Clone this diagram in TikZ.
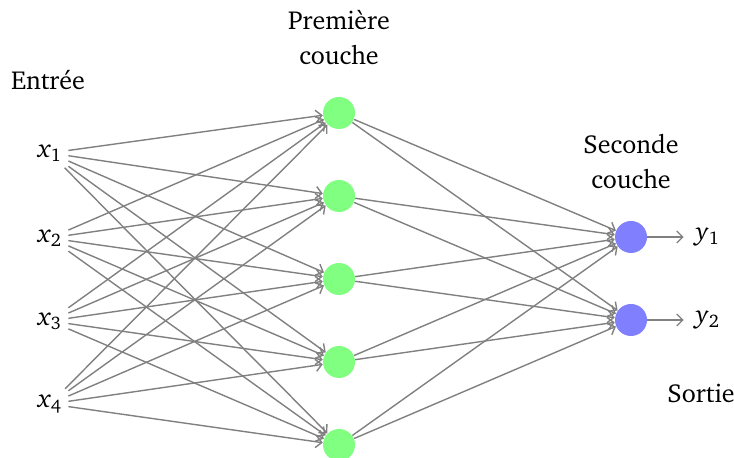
\documentclass[tikz,border=0pt]{standalone}
\usepackage[T1]{fontenc}
\usepackage{charter}
\usetikzlibrary{arrows.meta}
\begin{document}
\begin{tikzpicture}[x=0.5pt,y=-0.5pt,
  every node/.style={font=\fontsize{13}{17.5}\selectfont},
  hid/.style={circle,fill=green!50,minimum size=16pt,inner sep=0pt},
  outn/.style={circle,fill=blue!50,minimum size=16pt,inner sep=0pt},
  inp/.style={inner sep=3pt},
  conn/.style={-{Straight Barb[length=3pt,width=6pt]},draw=gray,line width=0.7pt},
  lbl/.style={align=center}]
\useasboundingbox (0,0) rectangle (734,458);
\foreach \i/\y in {1/153,2/238,3/321,4/404}
  \node[inp] (x\i) at (50,\y) {\textit{x}\textsubscript{\i}};
\foreach \j/\y in {1/113,2/196,3/279,4/362,5/445}
  \node[hid] (h\j) at (339,\y) {};
\foreach \k/\y in {1/237,2/320}
  \node[outn] (o\k) at (631,\y) {};
\foreach \k/\y in {1/237,2/320}
  \node[inp,inner sep=6pt] (y\k) at (708,\y) {\textit{y}\textsubscript{\k}};
\foreach \i in {1,...,4}
  \foreach \j in {1,...,5}
    \draw[conn] (x\i) -- (h\j);
\foreach \j in {1,...,5}
  \foreach \k in {1,2}
    \draw[conn] (h\j) -- (o\k);
\foreach \k in {1,2}
  \draw[conn] (o\k) -- (y\k);
\node[lbl] (tin) at (48,80) {Entrée};
\node[lbl] (th) at (339,38) {Première\\couche};
\node[lbl] (to) at (631,162) {Seconde\\couche};
\node[lbl] (tout) at (701,393) {Sortie};
\end{tikzpicture}
\end{document}
